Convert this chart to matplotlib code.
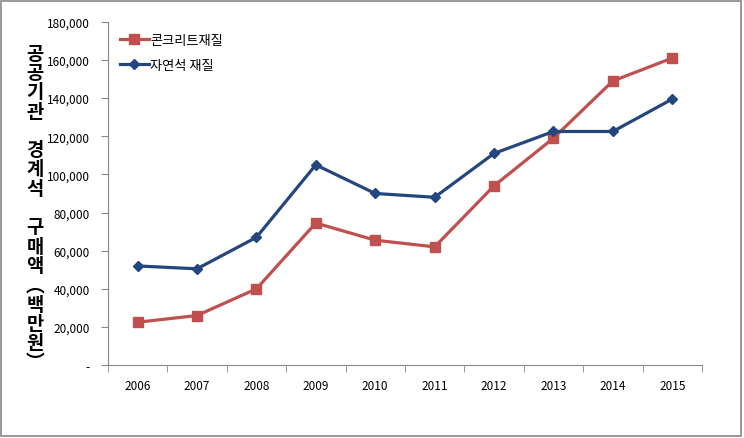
import matplotlib.pyplot as plt
from matplotlib.patches import Rectangle
from matplotlib.ticker import FixedLocator, FuncFormatter

plt.rcParams['font.family'] = ['Noto Sans CJK KR', 'DejaVu Sans']

years = ['2006', '2007', '2008', '2009', '2010', '2011', '2012', '2013', '2014', '2015']
concrete = [22500, 26000, 40000, 74500, 65500, 62000, 94000, 119000, 149000, 161000]
stone = [52000, 50500, 67000, 105000, 90000, 88000, 111000, 122500, 122500, 139500]
series_names = ['콘크리트재질', '자연석 재질']
ylabel_text = '공공기관 경계석 구매액(백만원)'

fig = plt.figure(figsize=(7.44, 4.39), dpi=100)
ax = fig.add_axes([0.145, 0.166, 0.7985, 0.782])

x = list(range(len(years)))
ax.plot(x, concrete, color='#C0504D', lw=2.3, marker='s', ms=7, label=series_names[0])
ax.plot(x, stone, color='#24467F', lw=2.3, marker='D', ms=5, label=series_names[1])

ax.set_xlim(-0.5, len(years) - 0.5)
ax.set_ylim(0, 180000)
ax.set_yticks(range(0, 180001, 20000))
ax.yaxis.set_major_formatter(FuncFormatter(lambda v, p: '-' if v == 0 else f'{int(v):,}'))
ax.set_xticks(x)
ax.set_xticklabels(years)
ax.xaxis.set_minor_locator(FixedLocator([i - 0.5 for i in range(len(years) + 1)]))
ax.tick_params(axis='x', which='major', length=0, pad=10, labelsize=8.5)
ax.tick_params(axis='x', which='minor', length=5, color='#888888')
ax.tick_params(axis='y', length=5, color='#888888', labelsize=8.5, pad=8)

for s in ['top', 'right']:
    ax.spines[s].set_visible(False)
for s in ['left', 'bottom']:
    ax.spines[s].set_color('#888888')

ax.legend(loc='upper left', bbox_to_anchor=(0.0, 1.0), frameon=False, fontsize=9.5,
          handlelength=2.2, handletextpad=0.1, labelspacing=0.9)

# vertical stacked y label
chars = []
for w in ylabel_text.replace('(', '︵').replace(')', '︶').split(' '):
    chars.extend(list(w))
    chars.append(' ')
fig.text(0.047, 0.525, '\n'.join(chars[:-1]), ha='center', va='center', fontsize=13.5,
         fontweight='black', linespacing=1.02)

fig.patches.append(Rectangle((0.002, 0.004), 0.994, 0.992, transform=fig.transFigure,
                             fill=False, edgecolor='#888888', lw=1.2))

fig.savefig('out.png', dpi=100)
